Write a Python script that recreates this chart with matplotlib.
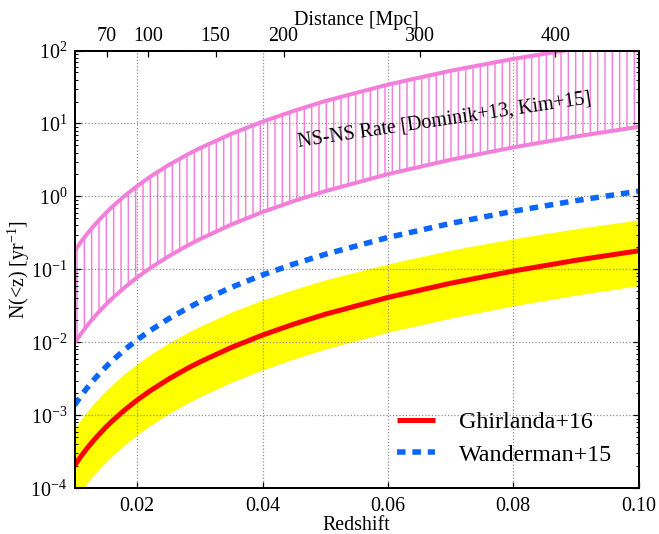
import numpy as np
import matplotlib
matplotlib.use('Agg')
import matplotlib.pyplot as plt
from matplotlib.ticker import FixedLocator, FixedFormatter, LogLocator, NullFormatter, NullLocator

# ---------------- data ----------------
redshift = [0.010, 0.011, 0.012, 0.013, 0.014, 0.015, 0.016, 0.018, 0.020, 0.022,
            0.025, 0.028, 0.030, 0.035, 0.040, 0.045, 0.050, 0.060, 0.070, 0.080,
            0.090, 0.100]
ghirlanda = [2.05e-4, 2.727e-4, 3.535e-4, 4.49e-4, 5.60e-4, 6.88e-4, 8.34e-4, 1.184e-3,
             1.62e-3, 2.149e-3, 3.14e-3, 4.395e-3, 5.39e-3, 8.50e-3, 1.26e-2, 1.78e-2,
             2.43e-2, 4.13e-2, 6.46e-2, 9.50e-2, 0.1333, 0.180]
ghirlanda_hi = [6.56e-4, 8.71e-4, 1.127e-3, 1.428e-3, 1.778e-3, 2.18e-3, 2.637e-3, 3.73e-3,
                5.09e-3, 6.72e-3, 9.77e-3, 1.358e-2, 1.66e-2, 2.59e-2, 3.81e-2, 5.32e-2,
                7.19e-2, 0.119, 0.183, 0.263, 0.361, 0.477]
ghirlanda_lo = [6.84e-5, 9.09e-5, 1.178e-4, 1.497e-4, 1.867e-4, 2.29e-4, 2.78e-4, 3.95e-4,
                5.4e-4, 7.16e-4, 1.05e-3, 1.465e-3, 1.80e-3, 2.83e-3, 4.2e-3, 5.93e-3,
                8.1e-3, 1.38e-2, 2.15e-2, 3.17e-2, 4.44e-2, 6.0e-2]
wanderman = [1.378e-3, 1.831e-3, 2.374e-3, 3.013e-3, 3.757e-3, 4.61e-3, 5.59e-3, 7.93e-3,
             1.085e-2, 1.439e-2, 2.10e-2, 2.938e-2, 3.60e-2, 5.67e-2, 8.40e-2, 0.1186,
             0.161, 0.274, 0.427, 0.627, 0.876, 1.18]
nsns_hi = [0.178, 0.2364, 0.3062, 0.3884, 0.4840, 0.594, 0.7193, 1.019,
           1.39, 1.844, 2.69, 3.749, 4.59, 7.20, 10.6, 14.9,
           20.3, 34.1, 52.8, 76.8, 106.0, 142.0]
nsns_lo = [9.81e-3, 1.3045e-2, 1.692e-2, 2.149e-2, 2.682e-2, 3.30e-2, 3.996e-2, 5.679e-2,
           7.78e-2, 0.1033, 0.151, 0.2118, 0.260, 0.411, 0.611, 0.866,
           1.18, 2.02, 3.18, 4.70, 6.63, 9.0]

x_ticks = [0.02, 0.04, 0.06, 0.08, 0.10]
x_tick_labels = ['0.02', '0.04', '0.06', '0.08', '0.10']
distance_ticks = [70, 100, 150, 200, 300, 400]
distance_labels = ['70', '100', '150', '200', '300', '400']
y_ticks = [1e-4, 1e-3, 1e-2, 1e-1, 1e0, 1e1, 1e2]
y_tick_labels = ['10$^{-4}$', '10$^{-3}$', '10$^{-2}$', '10$^{-1}$',
                 '10$^{0}$', '10$^{1}$', '10$^{2}$']
H0 = 65.0          # km/s/Mpc used for the distance axis
c_kms = 299792.458

# ---------------- style ----------------
plt.rcParams['font.family'] = ['Liberation Serif', 'DejaVu Serif']
plt.rcParams['mathtext.fontset'] = 'custom'
plt.rcParams['mathtext.rm'] = 'Liberation Serif'
plt.rcParams['mathtext.default'] = 'regular'
plt.rcParams['hatch.linewidth'] = 1.2
plt.rcParams['axes.linewidth'] = 1.5

DPI = 88
fig = plt.figure(figsize=(659 / DPI, 534 / DPI), dpi=DPI)
ax = fig.add_axes([0.1131, 0.0856, 0.8559, 0.8198])

pink = '#f47fdb'
yellow = '#ffff00'
red = '#ff0000'
blue = '#0a66ff'

ax.fill_between(redshift, ghirlanda_lo, ghirlanda_hi, color=yellow, lw=0, zorder=1)
ax.fill_between(redshift, nsns_lo, nsns_hi, facecolor='none', edgecolor=pink,
                hatch='||', lw=0, zorder=1)
ax.plot(redshift, nsns_hi, color=pink, lw=3.3, zorder=3)
ax.plot(redshift, nsns_lo, color=pink, lw=3.3, zorder=3)
ax.plot(redshift, ghirlanda, color=red, lw=4.1, zorder=3, label='Ghirlanda+16',
        solid_capstyle='butt')
ax.plot(redshift, wanderman, color=blue, lw=4.5, zorder=3, label='Wanderman+15',
        linestyle=(0, (1.55, 1.25)))

ax.set_yscale('log')
ax.set_xlim(0.01, 0.10)
ax.set_ylim(1e-4, 1e2)

ax.xaxis.set_major_locator(FixedLocator(x_ticks))
ax.xaxis.set_major_formatter(FixedFormatter(x_tick_labels))
ax.xaxis.set_minor_locator(NullLocator())
ax.yaxis.set_major_locator(FixedLocator(y_ticks))
ax.yaxis.set_major_formatter(FixedFormatter(y_tick_labels))
ax.yaxis.set_minor_locator(LogLocator(base=10, subs=np.arange(2, 10), numticks=20))
ax.yaxis.set_minor_formatter(NullFormatter())

ax.tick_params(which='both', direction='in', top=False, right=True, labelsize=16.4)
ax.tick_params(which='major', length=5, width=1.0)
ax.tick_params(which='minor', length=2.5, width=0.8)
ax.tick_params(axis='x', pad=7)
ax.tick_params(axis='y', pad=6)

ax.set_axisbelow(False)
ax.grid(True, which='major', linestyle=':', color='0.55', lw=1.0)

ax.set_xlabel('Redshift', fontsize=16.4, labelpad=0.5)
ax.set_ylabel('N(<z) [yr$^{-1}$]', fontsize=16.4, labelpad=-1)

ax.text(0.0690, 11.0, 'NS-NS Rate [Dominik+13, Kim+15]', rotation=8.5,
        ha='center', va='center', rotation_mode='anchor', fontsize=16.4, zorder=4)

leg = ax.legend(loc='upper left', bbox_to_anchor=(0.5717, 0.176), frameon=False,
                fontsize=19.6, handlelength=1.6, handletextpad=1.0, borderpad=0,
                borderaxespad=0, labelspacing=0.45)

# top axis: distance
ax2 = ax.twiny()
ax2.set_xlim(ax.get_xlim())
ax2.xaxis.set_major_locator(FixedLocator([d * H0 / c_kms for d in distance_ticks]))
ax2.xaxis.set_major_formatter(FixedFormatter(distance_labels))
ax2.xaxis.set_minor_locator(NullLocator())
ax2.tick_params(which='both', direction='in', labelsize=16.4, length=5, width=1.0, pad=3.5)
ax2.set_xlabel('Distance [Mpc]', fontsize=16.4, labelpad=2)

fig.savefig('out.png', dpi=DPI)
